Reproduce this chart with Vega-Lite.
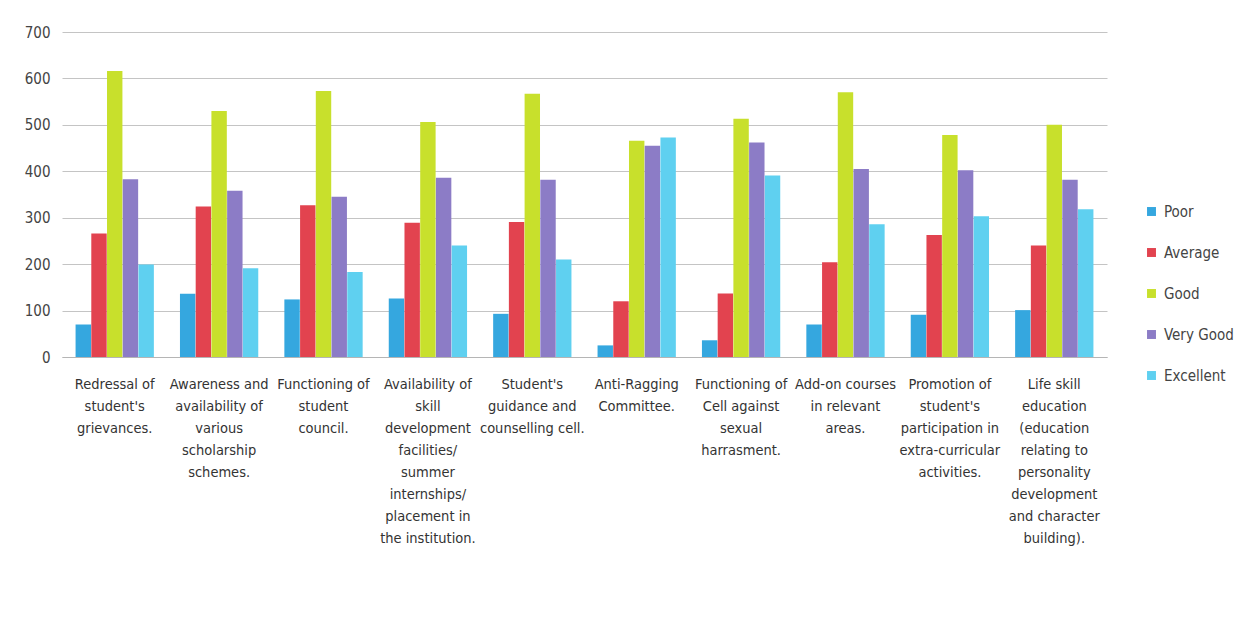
{
  "$schema": "https://vega.github.io/schema/vega-lite/v6.json",
  "autosize": "none",
  "width": 1045,
  "height": 325,
  "padding": {"left": 62, "top": 32, "right": 137, "bottom": 264},
  "background": "#ffffff",
  "config": {
    "font": "'DejaVu Sans Condensed', 'Liberation Sans Narrow', 'Open Sans', sans-serif",
    "view": {"stroke": null},
    "axis": {"labelFont": "'DejaVu Sans Condensed', 'Liberation Sans Narrow', 'Open Sans', sans-serif", "labelColor": "#333333"},
    "legend": {"labelFont": "'DejaVu Sans Condensed', 'Liberation Sans Narrow', 'Open Sans', sans-serif"}
  },
  "data": {
    "values": [
      {"aspect": "Redressal of|student's|grievances.", "rating": "Poor", "count": 70},
      {"aspect": "Redressal of|student's|grievances.", "rating": "Average", "count": 266},
      {"aspect": "Redressal of|student's|grievances.", "rating": "Good", "count": 616},
      {"aspect": "Redressal of|student's|grievances.", "rating": "Very Good", "count": 383},
      {"aspect": "Redressal of|student's|grievances.", "rating": "Excellent", "count": 199},

      {"aspect": "Awareness and|availability of|various|scholarship|schemes.", "rating": "Poor", "count": 136},
      {"aspect": "Awareness and|availability of|various|scholarship|schemes.", "rating": "Average", "count": 324},
      {"aspect": "Awareness and|availability of|various|scholarship|schemes.", "rating": "Good", "count": 530},
      {"aspect": "Awareness and|availability of|various|scholarship|schemes.", "rating": "Very Good", "count": 358},
      {"aspect": "Awareness and|availability of|various|scholarship|schemes.", "rating": "Excellent", "count": 191},

      {"aspect": "Functioning of|student|council.", "rating": "Poor", "count": 124},
      {"aspect": "Functioning of|student|council.", "rating": "Average", "count": 327},
      {"aspect": "Functioning of|student|council.", "rating": "Good", "count": 573},
      {"aspect": "Functioning of|student|council.", "rating": "Very Good", "count": 345},
      {"aspect": "Functioning of|student|council.", "rating": "Excellent", "count": 183},

      {"aspect": "Availability of|skill|development|facilities/|summer|internships/|placement in|the institution.", "rating": "Poor", "count": 126},
      {"aspect": "Availability of|skill|development|facilities/|summer|internships/|placement in|the institution.", "rating": "Average", "count": 289},
      {"aspect": "Availability of|skill|development|facilities/|summer|internships/|placement in|the institution.", "rating": "Good", "count": 506},
      {"aspect": "Availability of|skill|development|facilities/|summer|internships/|placement in|the institution.", "rating": "Very Good", "count": 386},
      {"aspect": "Availability of|skill|development|facilities/|summer|internships/|placement in|the institution.", "rating": "Excellent", "count": 240},

      {"aspect": "Student's|guidance and|counselling cell.", "rating": "Poor", "count": 93},
      {"aspect": "Student's|guidance and|counselling cell.", "rating": "Average", "count": 291},
      {"aspect": "Student's|guidance and|counselling cell.", "rating": "Good", "count": 567},
      {"aspect": "Student's|guidance and|counselling cell.", "rating": "Very Good", "count": 382},
      {"aspect": "Student's|guidance and|counselling cell.", "rating": "Excellent", "count": 210},

      {"aspect": "Anti-Ragging|Committee.", "rating": "Poor", "count": 25},
      {"aspect": "Anti-Ragging|Committee.", "rating": "Average", "count": 120},
      {"aspect": "Anti-Ragging|Committee.", "rating": "Good", "count": 466},
      {"aspect": "Anti-Ragging|Committee.", "rating": "Very Good", "count": 455},
      {"aspect": "Anti-Ragging|Committee.", "rating": "Excellent", "count": 473},

      {"aspect": "Functioning of|Cell against|sexual|harrasment.", "rating": "Poor", "count": 36},
      {"aspect": "Functioning of|Cell against|sexual|harrasment.", "rating": "Average", "count": 137},
      {"aspect": "Functioning of|Cell against|sexual|harrasment.", "rating": "Good", "count": 513},
      {"aspect": "Functioning of|Cell against|sexual|harrasment.", "rating": "Very Good", "count": 462},
      {"aspect": "Functioning of|Cell against|sexual|harrasment.", "rating": "Excellent", "count": 391},

      {"aspect": "Add-on courses|in relevant|areas.", "rating": "Poor", "count": 70},
      {"aspect": "Add-on courses|in relevant|areas.", "rating": "Average", "count": 204},
      {"aspect": "Add-on courses|in relevant|areas.", "rating": "Good", "count": 570},
      {"aspect": "Add-on courses|in relevant|areas.", "rating": "Very Good", "count": 405},
      {"aspect": "Add-on courses|in relevant|areas.", "rating": "Excellent", "count": 286},

      {"aspect": "Promotion of|student's|participation in|extra-curricular|activities.", "rating": "Poor", "count": 91},
      {"aspect": "Promotion of|student's|participation in|extra-curricular|activities.", "rating": "Average", "count": 263},
      {"aspect": "Promotion of|student's|participation in|extra-curricular|activities.", "rating": "Good", "count": 478},
      {"aspect": "Promotion of|student's|participation in|extra-curricular|activities.", "rating": "Very Good", "count": 402},
      {"aspect": "Promotion of|student's|participation in|extra-curricular|activities.", "rating": "Excellent", "count": 303},

      {"aspect": "Life skill|education|(education|relating to|personality|development|and character|building).", "rating": "Poor", "count": 101},
      {"aspect": "Life skill|education|(education|relating to|personality|development|and character|building).", "rating": "Average", "count": 240},
      {"aspect": "Life skill|education|(education|relating to|personality|development|and character|building).", "rating": "Good", "count": 500},
      {"aspect": "Life skill|education|(education|relating to|personality|development|and character|building).", "rating": "Very Good", "count": 382},
      {"aspect": "Life skill|education|(education|relating to|personality|development|and character|building).", "rating": "Excellent", "count": 318}
    ]
  },
  "mark": {"type": "bar"},
  "encoding": {
    "x": {
      "field": "aspect",
      "type": "nominal",
      "sort": null,
      "scale": {"paddingInner": 0.25, "paddingOuter": 0.13},
      "axis": {
        "title": null,
        "labelAngle": 0,
        "labelExpr": "split(datum.value, '|')",
        "labelFontSize": 14.5,
        "labelLineHeight": 22,
        "labelPadding": 20,
        "labelBaseline": "top",
        "labelLimit": 0,
        "ticks": false,
        "domain": true,
        "domainColor": "#b5b5b5",
        "domainWidth": 1
      }
    },
    "xOffset": {
      "field": "rating",
      "type": "nominal",
      "sort": ["Poor", "Average", "Good", "Very Good", "Excellent"],
      "scale": {"paddingInner": 0.02}
    },
    "y": {
      "field": "count",
      "type": "quantitative",
      "scale": {"domain": [0, 700], "nice": false},
      "axis": {
        "title": null,
        "values": [0, 100, 200, 300, 400, 500, 600, 700],
        "labelFontSize": 15,
        "labelPadding": 12,
        "labelColor": "#444444",
        "ticks": false,
        "domain": false,
        "grid": true,
        "gridColor": "#c4c4c4",
        "gridWidth": 1
      }
    },
    "color": {
      "field": "rating",
      "type": "nominal",
      "sort": ["Poor", "Average", "Good", "Very Good", "Excellent"],
      "scale": {
        "domain": ["Poor", "Average", "Good", "Very Good", "Excellent"],
        "range": ["#35a7df", "#e2434f", "#c8e02c", "#8c7cc6", "#5fd0f0"]
      },
      "legend": {
        "title": null,
        "orient": "none",
        "legendX": 1082,
        "legendY": 172,
        "symbolType": "square",
        "symbolSize": 80,
        "symbolStrokeWidth": 0,
        "labelFontSize": 15,
        "labelColor": "#444444",
        "labelOffset": 5,
        "rowPadding": 25
      }
    }
  }
}
